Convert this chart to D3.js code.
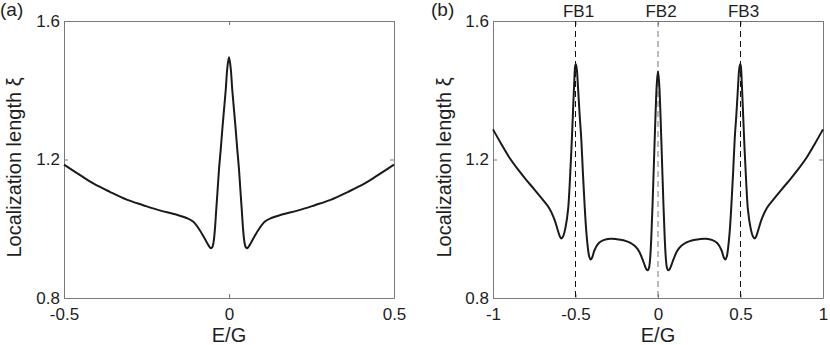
<!DOCTYPE html>
<html>
<head>
<meta charset="utf-8">
<script src="https://cdn.jsdelivr.net/npm/d3@7"></script>
<style>
  body { margin: 0; background: #fff; }
  svg text { font-family: "Liberation Sans", Arial, sans-serif; fill: #1e1e1e; }
</style>
</head>
<body>
<script>
// ---- data ----
var yTicks = [0.8, 1.2, 1.6];

// panel (a)
var aTicks = [-0.5, 0, 0.5];
var aE  = [-0.5, -0.45, -0.41, -0.36, -0.31, -0.26, -0.21, -0.16, -0.128, -0.108, -0.088, -0.068, -0.06, -0.055,
           -0.051, -0.047, -0.043, -0.039, -0.035, -0.03, -0.025, -0.02, -0.015, -0.01, -0.005, 0,
           0.005, 0.01, 0.015, 0.02, 0.025, 0.03, 0.035, 0.039, 0.043, 0.047, 0.051,
           0.055, 0.06, 0.068, 0.088, 0.108, 0.128, 0.16, 0.21, 0.26, 0.31, 0.36, 0.41, 0.45, 0.5];
var aXi = [1.185, 1.154, 1.130, 1.106, 1.084, 1.068, 1.053, 1.041, 1.031, 1.020, 0.995, 0.962, 0.949, 0.944,
           0.946, 0.960, 0.995, 1.050, 1.105, 1.175, 1.230, 1.290, 1.345, 1.400, 1.465, 1.495,
           1.465, 1.400, 1.345, 1.290, 1.230, 1.175, 1.105, 1.050, 0.995, 0.960, 0.946,
           0.944, 0.949, 0.962, 0.995, 1.020, 1.031, 1.041, 1.053, 1.068, 1.084, 1.106, 1.130, 1.154, 1.185];

// panel (b)
var bTicks = [-1, -0.5, 0, 0.5, 1];
var bE  = [-1, -0.95, -0.9, -0.85, -0.8, -0.75, -0.7, -0.66, -0.63, -0.61, -0.595, -0.585, -0.575, -0.56,
           -0.545, -0.535, -0.525, -0.515, -0.508, -0.502, -0.498, -0.492, -0.485, -0.475, -0.465, -0.455,
           -0.445, -0.435, -0.425, -0.417, -0.408, -0.399, -0.385, -0.36, -0.33, -0.29, -0.25, -0.21, -0.17, -0.14,
           -0.115, -0.095, -0.078, -0.069, -0.062, -0.055, -0.048, -0.041, -0.033, -0.024, -0.015, -0.007, 0,
           0.007, 0.015, 0.024, 0.033, 0.041, 0.048, 0.055, 0.062, 0.069, 0.078, 0.095, 0.115, 0.14, 0.17, 0.21,
           0.25, 0.29, 0.33, 0.36, 0.385, 0.399, 0.408, 0.417, 0.425, 0.435, 0.445, 0.455, 0.465, 0.475, 0.485,
           0.492, 0.498, 0.502, 0.508, 0.515, 0.525, 0.535, 0.545, 0.56, 0.575, 0.585, 0.595, 0.61, 0.63,
           0.66, 0.7, 0.75, 0.8, 0.85, 0.9, 0.95, 1];
var bXi = [1.287, 1.245, 1.205, 1.172, 1.142, 1.114, 1.085, 1.060, 1.030, 1.000, 0.978, 0.972, 0.978, 1.005,
           1.055, 1.130, 1.227, 1.340, 1.420, 1.470, 1.476, 1.460, 1.410, 1.330, 1.260, 1.160,
           1.070, 0.995, 0.945, 0.920, 0.911, 0.917, 0.938, 0.958, 0.967, 0.971, 0.970, 0.967, 0.960, 0.950,
           0.935, 0.913, 0.891, 0.882, 0.880, 0.886, 0.912, 0.970, 1.070, 1.200, 1.330, 1.420, 1.455,
           1.420, 1.330, 1.200, 1.070, 0.970, 0.912, 0.886, 0.880, 0.882, 0.891, 0.913, 0.935, 0.950, 0.960, 0.967,
           0.970, 0.971, 0.967, 0.958, 0.938, 0.917, 0.911, 0.920, 0.945, 0.995, 1.070, 1.160, 1.260, 1.330, 1.410,
           1.460, 1.476, 1.470, 1.420, 1.340, 1.227, 1.130, 1.055, 1.005, 0.978, 0.972, 0.978, 1.000, 1.030,
           1.060, 1.085, 1.114, 1.142, 1.172, 1.205, 1.245, 1.287];
var fbPos = [-0.5, 0, 0.5];
var fbLabels = ['FB1', 'FB2', 'FB3'];

var svgWidth = 830, svgHeight = 345;
var svg = d3.select('body').append('svg')
            .attr('width', svgWidth)
            .attr('height', svgHeight);

var mTop = 21, mBottom = 298;

drawPanel({left: 64, right: 394, tag: '(a)', tagX: 0, labelX: 21,
           domain: [-0.5, 0.5], ticks: aTicks, xs: aE, ys: aXi});
drawPanel({left: 493, right: 823, tag: '(b)', tagX: 431, labelX: 451,
           domain: [-1, 1], ticks: bTicks, xs: bE, ys: bXi, fb: true});

function drawPanel(p) {
  var w = p.right - p.left, h = mBottom - mTop;
  var g = svg.append('g').attr('transform', 'translate(' + p.left + ',' + mTop + ')');

  var xScale = d3.scaleLinear().domain(p.domain).range([0, w]);
  var yScale = d3.scaleLinear().domain([0.8, 1.6]).range([h, 0]);

  // frame + inward ticks on all four sides
  var fmtX = function(d) { return String(d); };
  var xb = g.append('g').attr('transform', 'translate(0,' + h + ')')
            .call(d3.axisBottom(xScale).tickValues(p.ticks).tickSizeInner(-4).tickSizeOuter(0)
                  .tickPadding(10).tickFormat(fmtX));
  var xt = g.append('g')
            .call(d3.axisTop(xScale).tickValues(p.ticks).tickSizeInner(-4).tickSizeOuter(0).tickFormat(''));
  var yl = g.append('g')
            .call(d3.axisLeft(yScale).tickValues(yTicks).tickSizeInner(-4).tickSizeOuter(0)
                  .tickPadding(4).tickFormat(d3.format('.1f')));
  var yr = g.append('g').attr('transform', 'translate(' + w + ',0)')
            .call(d3.axisRight(yScale).tickValues(yTicks).tickSizeInner(-4).tickSizeOuter(0).tickFormat(''));

  [xb, xt, yl, yr].forEach(function(a) {
    a.selectAll('path.domain').attr('stroke', '#7a7a7a').attr('stroke-width', 1);
    a.selectAll('.tick line').attr('stroke', '#7a7a7a');
    a.selectAll('.tick text').attr('font-size', 17).attr('fill', '#1e1e1e')
      .attr('font-family', '"Liberation Sans", Arial, sans-serif');
  });

  // dashed flat-band markers
  if (p.fb) {
    g.selectAll('line.fb').data(fbPos).enter().append('line')
      .attr('class', 'fb')
      .attr('x1', function(d) { return xScale(d); })
      .attr('x2', function(d) { return xScale(d); })
      .attr('y1', 0).attr('y2', h)
      .attr('stroke', function(d) { return d === 0 ? '#777' : '#111'; })
      .attr('stroke-width', 1)
      .attr('stroke-dasharray', '6,4');
    g.selectAll('text.fb').data(fbPos).enter().append('text')
      .attr('class', 'fb')
      .attr('x', function(d) { return xScale(d) + 3; })
      .attr('y', -4)
      .attr('text-anchor', 'middle')
      .attr('font-size', 17)
      .text(function(d, i) { return fbLabels[i]; });
  }

  // the curve
  var pts = p.xs.map(function(x, i) { return [x, p.ys[i]]; });
  var line = d3.line()
               .x(function(d) { return xScale(d[0]); })
               .y(function(d) { return yScale(d[1]); })
               .curve(d3.curveCatmullRom.alpha(0.5));
  g.append('path').datum(pts)
    .attr('d', line)
    .attr('fill', 'none')
    .attr('stroke', '#1a1a1a')
    .attr('stroke-width', 2);

  // labels
  svg.append('text')
     .attr('x', p.left + w / 2).attr('y', 342)
     .attr('text-anchor', 'middle')
     .attr('font-size', 20)
     .text('E/G');
  svg.append('text')
     .attr('transform', 'translate(' + p.labelX + ',' + (mTop + h / 2 + 8) + ') rotate(-90)')
     .attr('text-anchor', 'middle')
     .attr('font-size', 20)
     .text('Localization length \u03be');
  svg.append('text')
     .attr('x', p.tagX).attr('y', 16)
     .attr('font-size', 19)
     .text(p.tag);
}
</script>
</body>
</html>
